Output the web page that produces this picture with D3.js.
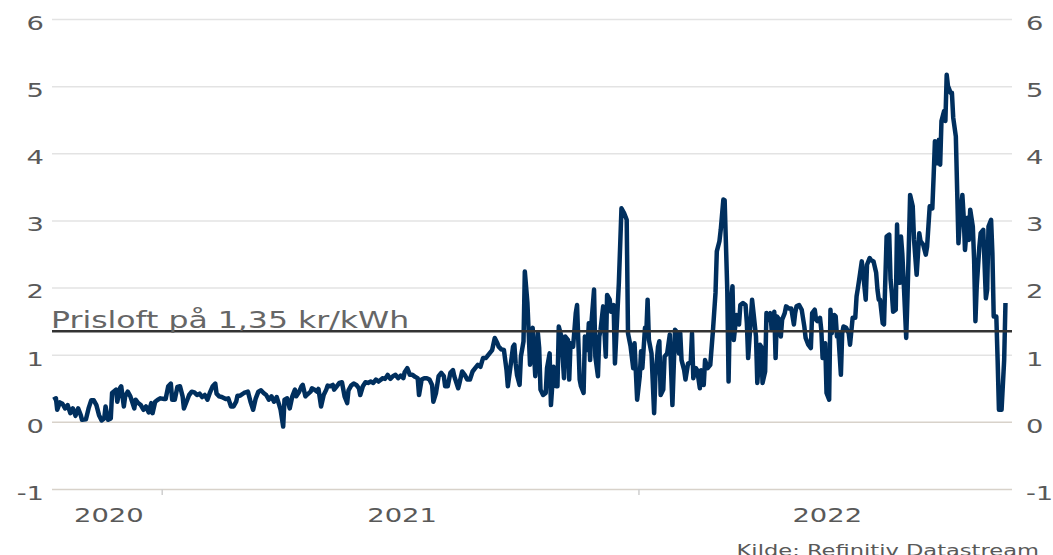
<!DOCTYPE html>
<html>
<head>
<meta charset="utf-8">
<script src="https://cdn.jsdelivr.net/npm/d3@7"></script>
<style>
  body { margin: 0; background: #fff; }
  text { font-family: "DejaVu Sans", sans-serif; }
</style>
</head>
<body>
<div id="chart"></div>
<script>
// price in kr/kWh, keyed by days since baseDate
const baseDate = "2021-01-01";
const priceSeries = [
  [-83, 0.33], [-81, 0.35], [-80, 0.18], [-78, 0.29], [-76, 0.27], [-74, 0.20], [-72, 0.25], [-70, 0.13],
  [-68, 0.20], [-66, 0.09], [-64, 0.20], [-62, 0.10], [-61, 0.03], [-58, 0.04], [-56, 0.20], [-54, 0.32],
  [-52, 0.32], [-50, 0.25], [-48, 0.10], [-46, 0.02], [-44, 0.05], [-43, 0.23], [-41, 0.03], [-39, 0.05],
  [-38, 0.43], [-35, 0.48], [-34, 0.30], [-32, 0.50], [-31, 0.53], [-29, 0.23], [-28, 0.38], [-26, 0.45],
  [-24, 0.38], [-21, 0.20], [-20, 0.33], [-18, 0.28], [-16, 0.25], [-14, 0.18], [-12, 0.23], [-10, 0.14],
  [-8, 0.28], [-7, 0.13], [-5, 0.30], [-3, 0.33], [-1, 0.35], [2, 0.34], [3, 0.34], [5, 0.53],
  [7, 0.57], [8, 0.33], [10, 0.33], [12, 0.52], [14, 0.53], [16, 0.38], [17, 0.20], [19, 0.30],
  [21, 0.40], [23, 0.45], [25, 0.44], [27, 0.40], [29, 0.42], [31, 0.37], [33, 0.40], [35, 0.33],
  [37, 0.44], [39, 0.53], [41, 0.57], [42, 0.42], [44, 0.38], [46, 0.37], [49, 0.34], [51, 0.35],
  [53, 0.23], [55, 0.23], [57, 0.30], [58, 0.39], [60, 0.39],
  [63, 0.43], [66, 0.45], [68, 0.30], [70, 0.18], [72, 0.35], [74, 0.45], [76, 0.47], [78, 0.43],
  [80, 0.40], [82, 0.33], [84, 0.38], [86, 0.30], [88, 0.37], [90, 0.25], [91, 0.18], [93, -0.07],
  [94, 0.33], [96, 0.35], [98, 0.20], [100, 0.38], [102, 0.48], [103, 0.38], [105, 0.44], [107, 0.53],
  [108, 0.55], [110, 0.38], [111, 0.40], [114, 0.45], [115, 0.50], [117, 0.48], [119, 0.45], [120, 0.49],
  [122, 0.23], [124, 0.40], [126, 0.48], [127, 0.54], [129, 0.53], [131, 0.55], [132, 0.48], [134, 0.53],
  [136, 0.58], [138, 0.59], [140, 0.38], [142, 0.28], [143, 0.47], [145, 0.54], [147, 0.57], [149, 0.55],
  [151, 0.50], [152, 0.40], [154, 0.53], [156, 0.59], [158, 0.58], [160, 0.60], [162, 0.58], [164, 0.63],
  [166, 0.60], [168, 0.63], [169, 0.65], [171, 0.64], [173, 0.70], [175, 0.64], [177, 0.68], [179, 0.70],
  [181, 0.65], [183, 0.69], [185, 0.65], [186, 0.74], [188, 0.80], [190, 0.70], [192, 0.70], [194, 0.67],
  [196, 0.65], [197, 0.40], [199, 0.63], [201, 0.65], [203, 0.65], [205, 0.63], [207, 0.55], [208, 0.30],
  [210, 0.43],
  [212, 0.68], [214, 0.73], [216, 0.68], [217, 0.53], [219, 0.53], [221, 0.73], [223, 0.77], [224, 0.68],
  [227, 0.50], [228, 0.58], [230, 0.75], [232, 0.70], [234, 0.63], [236, 0.63], [238, 0.75], [240, 0.80],
  [242, 0.85], [244, 0.82], [246, 0.95], [248, 0.95], [249, 0.97], [251, 1.02], [253, 1.07], [255, 1.25],
  [257, 1.17], [258, 1.12], [260, 1.08], [262, 1.07], [264, 0.77], [265, 0.53], [267, 0.82], [269, 1.12],
  [270, 1.15], [271, 0.87], [272, 0.70], [274, 0.55], [275, 0.97], [277, 1.20], [278, 2.24], [280, 1.77],
  [282, 0.85], [283, 1.37], [284, 1.40], [286, 0.68], [288, 1.32], [289, 1.10], [290, 0.48], [292, 0.40],
  [294, 0.43], [295, 0.80], [297, 1.02], [298, 0.25], [300, 0.82], [302, 0.53], [303, 0.53], [304, 1.42],
  [306, 1.27], [308, 0.65], [309, 1.27], [311, 1.22], [312, 0.63], [313, 1.17], [315, 1.12], [317, 1.62],
  [318, 1.74], [320, 0.63], [321, 0.53], [323, 0.43], [324, 1.27], [326, 1.07], [327, 1.47], [328, 0.92],
  [329, 1.47], [331, 1.97], [332, 0.97], [334, 0.68], [335, 1.27], [336, 1.37], [338, 1.72], [340, 0.97],
  [341, 1.89], [343, 1.82], [344, 1.64], [346, 1.74], [347, 0.87], [348, 1.27], [350, 2.07], [352, 3.18],
  [354, 3.11],
  [356, 3.01], [357, 1.32], [359, 1.12], [361, 0.80], [362, 1.17], [364, 0.33], [366, 0.68], [367, 1.05],
  [368, 0.80], [370, 1.40], [371, 1.32], [372, 1.82], [373, 1.22], [375, 1.02], [377, 0.13], [378, 0.68],
  [380, 1.12], [381, 1.20], [382, 0.40], [384, 0.48], [385, 0.97], [387, 1.02], [389, 1.30], [391, 0.25],
  [393, 1.37], [394, 1.35], [396, 1.02], [397, 1.32], [398, 0.92], [400, 0.77], [401, 0.63], [403, 0.87],
  [405, 0.88], [406, 1.32], [407, 0.65], [409, 0.80], [410, 0.77], [412, 0.50], [413, 0.77], [415, 0.55],
  [416, 0.92], [418, 0.80], [420, 0.85], [422, 1.35], [424, 1.92], [425, 2.54], [427, 2.69], [428, 2.86],
  [430, 3.31], [431, 3.30], [433, 1.97], [434, 0.60], [435, 1.62], [437, 2.02], [438, 1.22], [440, 1.59],
  [442, 1.45], [443, 1.74], [445, 1.77], [447, 1.74], [448, 1.47], [449, 0.95], [451, 1.52], [452, 1.82],
  [453, 1.64], [455, 1.27], [456, 0.58], [458, 1.15], [459, 1.12], [460, 0.58], [462, 0.75], [463, 1.62],
  [465, 1.52], [466, 1.62], [467, 1.37], [469, 1.64], [470, 0.95], [471, 1.57], [473, 1.52], [474, 1.27],
  [475, 1.52], [477, 1.62], [478, 1.72], [480, 1.69], [482, 1.69], [484, 1.45], [485, 1.62], [486, 1.72],
  [488, 1.74], [490, 1.67], [492, 1.42], [493, 1.25], [495, 1.15], [497, 1.10], [498, 1.62], [500, 1.67],
  [501, 1.52],
  [502, 1.50], [504, 1.55], [505, 1.37], [506, 0.95], [508, 1.17], [509, 0.43], [511, 0.33], [512, 1.67],
  [513, 1.32], [515, 1.59], [516, 1.57], [517, 1.27], [518, 1.32], [520, 0.70], [521, 1.32], [522, 1.42],
  [524, 1.40], [526, 1.32], [527, 1.15], [529, 1.55], [531, 1.55], [532, 1.87], [533, 1.99], [534, 2.12],
  [536, 2.39], [537, 2.22], [539, 1.82], [540, 2.34], [542, 2.44], [543, 2.41], [545, 2.39], [547, 2.22],
  [548, 1.97], [549, 1.82], [550, 1.82], [552, 1.47], [553, 1.45], [555, 2.76], [557, 2.79], [558, 2.12],
  [559, 1.92], [560, 1.64], [562, 1.67], [563, 2.94], [564, 2.07], [565, 2.07], [566, 2.76], [567, 2.51],
  [568, 2.12], [570, 1.25], [571, 1.87], [572, 2.61], [573, 3.38], [575, 3.21], [576, 2.71], [578, 2.19],
  [580, 2.81], [581, 2.69], [583, 2.64], [585, 2.49], [586, 2.61], [587, 2.91], [588, 3.21], [590, 3.18],
  [591, 3.66], [592, 4.18], [594, 3.85], [595, 4.20], [596, 3.83], [597, 4.48], [599, 4.63], [600, 4.48],
  [601, 5.17], [602, 5.00], [604, 4.90], [605, 4.90], [606, 4.53], [608, 4.25], [609, 3.46], [610, 2.66],
  [611, 2.96], [613, 3.38], [614, 3.06], [615, 2.56], [617, 3.04], [618, 2.71], [619, 3.16], [621, 2.91],
  [622, 2.41], [623, 1.50], [624, 2.02], [626, 2.61], [627, 2.81], [629, 2.86], [631, 1.84], [632, 1.97],
  [633, 2.91], [635, 3.01], [636, 2.51], [637, 1.57], [639, 1.57], [640, 0.92], [641, 0.18], [643, 0.18],
  [645, 0.92], [646, 1.77]
];

const xDomain = ["2020-10-09", "2022-10-14"];
const yTicks = [-1, 0, 1, 2, 3, 4, 5, 6];
const yearLabels = ["2020", "2021", "2022"];
const yearStarts = ["2021-01-01", "2022-01-01"];
const priceCap = 1.35;
const capLabel = "Prisloft på 1,35 kr/kWh";
const sourceLabel = "Kilde: Refinitiv Datastream";

const width = 1053;
const height = 555;
const margin = { left: 52, right: 41, top: 19, bottom: 66 };
const innerW = width - margin.left - margin.right;
const innerH = height - margin.top - margin.bottom;

// the source picture is stretched sideways, so is its lettering
const stretch = 1.37;
const labelColor = "#595959";

const parse = d3.timeParse("%Y-%m-%d");
const base = parse(baseDate);
const data = priceSeries.map(([d, v]) => ({
  date: d3.timeDay.offset(base, d),
  value: v,
}));

const x = d3.scaleTime().domain(xDomain.map(parse)).range([0, innerW]);
const y = d3.scaleLinear().domain([-1, 6]).range([innerH, 0]);

const svg = d3
  .select("#chart")
  .append("svg")
  .attr("width", width)
  .attr("height", height);

const g = svg
  .append("g")
  .attr("transform", "translate(" + margin.left + "," + margin.top + ")");

// gridlines
g.append("g")
  .attr("class", "grid")
  .call(d3.axisLeft(y).tickValues(yTicks).tickSize(-innerW).tickFormat(""))
  .call((s) => s.select(".domain").remove())
  .call((s) =>
    s
      .selectAll(".tick line")
      .attr("stroke", (d) => (d <= 0 ? "#d8d2ca" : "#e3e3e3"))
      .attr("stroke-width", 1.5)
  );

// y labels, both sides
function styleLabels(s, pad) {
  s.select(".domain").remove();
  s.selectAll(".tick text")
    .attr("x", pad / stretch)
    .attr("dy", "0.52em")
    .attr("transform", "scale(" + stretch + ",1)")
    .style("font-family", '"DejaVu Sans", sans-serif')
    .style("font-size", "20px")
    .attr("fill", labelColor);
}

g.append("g")
  .call(d3.axisLeft(y).tickValues(yTicks).tickSize(0).tickFormat((d) => String(d)))
  .call((s) => styleLabels(s, -8));

g.append("g")
  .attr("transform", "translate(" + innerW + ",0)")
  .call(d3.axisRight(y).tickValues(yTicks).tickSize(0).tickFormat((d) => String(d)))
  .call((s) => styleLabels(s, 14));

// x ticks at the year breaks
g.append("g")
  .attr("transform", "translate(0," + innerH + ")")
  .call(d3.axisBottom(x).tickValues(yearStarts.map(parse)).tickSize(6).tickFormat(""))
  .call((s) => s.select(".domain").remove())
  .call((s) => s.selectAll(".tick line").attr("stroke", "#cfcfcf").attr("stroke-width", 1.5));

// year names centred in the visible part of each year
const [d0, d1] = x.domain();
g.append("g")
  .selectAll("text")
  .data(yearLabels)
  .join("text")
  .attr("transform", (d) => {
    const a = new Date(+d, 0, 1) < d0 ? d0 : new Date(+d, 0, 1);
    const b = new Date(+d + 1, 0, 1) > d1 ? d1 : new Date(+d + 1, 0, 1);
    const cx = (x(a) + x(b)) / 2 + 2;
    return "translate(" + cx + "," + (innerH + 33) + ") scale(" + stretch + ",1)";
  })
  .attr("text-anchor", "middle")
  .style("font-size", "20px")
  .attr("fill", labelColor)
  .text((d) => d);

// price line
g.append("path")
  .datum(data)
  .attr("fill", "none")
  .attr("stroke", "#002f5e")
  .attr("stroke-width", 4.5)
  .attr("stroke-linejoin", "round")
  .attr("d", d3.line().x((d) => x(d.date)).y((d) => y(d.value)));

// price cap
g.append("line")
  .attr("x1", 0)
  .attr("x2", innerW)
  .attr("y1", y(priceCap))
  .attr("y2", y(priceCap))
  .attr("stroke", "#333")
  .attr("stroke-width", 2.5);

g.append("text")
  .attr("transform", "translate(-1," + (y(priceCap) - 3) + ") scale(" + stretch + ",1)")
  .style("font-size", "23px")
  .attr("fill", "#666")
  .text(capLabel);

// source, clipped by the bottom edge as in the original
svg
  .append("text")
  .attr("transform", "translate(1039,556) scale(" + stretch + ",1)")
  .attr("text-anchor", "end")
  .style("font-size", "16.5px")
  .attr("fill", labelColor)
  .text(sourceLabel);
</script>
</body>
</html>
